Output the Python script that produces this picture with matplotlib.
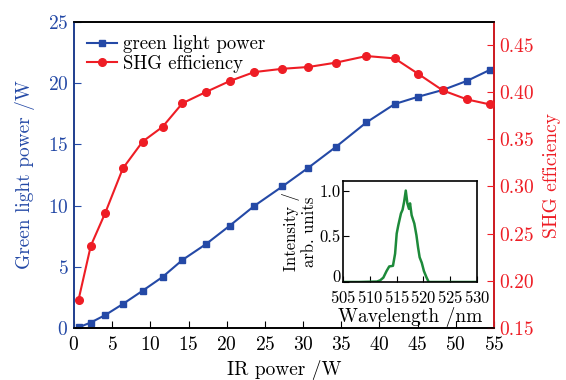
import matplotlib
matplotlib.use("Agg")
import matplotlib.pyplot as plt

plt.rcParams["font.family"] = ["cmr10", "DejaVu Serif"]
plt.rcParams["axes.formatter.use_mathtext"] = True
plt.rcParams["mathtext.fontset"] = "cm"

# IR pump power (W)
ir_power = [0.6, 2.2, 4.1, 6.4, 9.0, 11.6, 14.2, 17.3, 20.4, 23.6, 27.3,
            30.7, 34.3, 38.3, 42.0, 45.1, 48.3, 51.5, 54.5]
# green output power (W)
green_power = [0.05, 0.45, 1.06, 1.96, 3.05, 4.17, 5.56, 6.86, 8.36, 9.97,
               11.57, 13.1, 14.8, 16.8, 18.3, 18.9, 19.45, 20.2, 21.1]
# SHG efficiency
shg_eff = [0.180, 0.237, 0.272, 0.319, 0.3475, 0.363, 0.388, 0.400, 0.4115,
           0.421, 0.4245, 0.4264, 0.431, 0.438, 0.4355, 0.419, 0.4016,
           0.392, 0.3867]

# inset spectrum
wavelength = [505.0, 508.0, 511.3, 511.9, 512.5, 513.1, 513.6, 514.3, 514.7,
              515.0, 515.3, 515.8, 516.1, 516.4, 516.7, 517.0, 517.3, 517.5,
              517.8, 518.3, 518.7, 519.0, 519.3, 519.7, 520.1, 520.6, 521.0,
              524.0, 530.0]
intensity = [0.0, 0.0, 0.005, 0.018, 0.048, 0.12, 0.17, 0.177, 0.31,
             0.53, 0.62, 0.75, 0.79, 0.88, 1.0, 0.86, 0.80, 0.86,
             0.73, 0.64, 0.51, 0.38, 0.27, 0.21, 0.12, 0.048, 0.0,
             0.0, 0.0]

blue = "#2449a6"
red = "#ee1d25"
green = "#1d8a3a"

fig = plt.figure(figsize=(5.66, 3.8), dpi=100)
ax = fig.add_axes([0.1307, 0.1368, 0.742, 0.8052])
ax2 = ax.twinx()

l1, = ax.plot(ir_power, green_power, color=blue, marker="s", markersize=5,
              linewidth=1.5, label="green light power")
l2, = ax2.plot(ir_power, shg_eff, color=red, marker="o", markersize=5.5,
               linewidth=1.5, label="SHG efficiency")

ax.set_xlim(0, 55)
ax.set_ylim(0, 25)
ax2.set_ylim(0.15, 0.474)
ax.set_xticks(range(0, 56, 5))
ax.set_yticks(range(0, 26, 5))
ax2.set_yticks([0.15, 0.20, 0.25, 0.30, 0.35, 0.40, 0.45])
ax2.set_yticklabels(["0.15", "0.20", "0.25", "0.30", "0.35", "0.40", "0.45"])

fs = 14
ax.tick_params(axis="x", direction="in", length=5, labelsize=fs, pad=6)
ax.tick_params(axis="y", direction="in", length=5, labelsize=fs,
               colors=blue, pad=4)
ax2.tick_params(axis="y", direction="in", length=5, labelsize=fs,
                colors=red, pad=4)
for a in (ax, ax2):
    for s in a.spines.values():
        s.set_linewidth(1.2)
ax2.spines["right"].set_color(red)
ax2.spines["left"].set_color(blue)

ax.set_xlabel("IR power /W", fontsize=fs, labelpad=4)
ax.set_ylabel("Green light power /W", fontsize=fs, color=blue, labelpad=9)
ax2.set_ylabel("SHG efficiency", fontsize=fs, color=red, labelpad=6)

ax.legend([l1, l2], ["green light power", "SHG efficiency"], loc="upper left",
          frameon=False, fontsize=13.5, handlelength=1.6, handletextpad=0.3,
          borderaxespad=0.3, labelspacing=0.1)

# inset
axi = fig.add_axes([0.6066, 0.2579, 0.2357, 0.2647])
axi.plot(wavelength, intensity, color=green, linewidth=1.8)
axi.set_xlim(505, 530)
axi.set_ylim(0, 1.1)
axi.set_xticks([505, 510, 515, 520, 525, 530])
axi.set_yticks([0, 0.5, 1.0])
axi.set_yticklabels(["0", "0.5", "1.0"])
axi.tick_params(axis="x", direction="in", length=4, labelsize=12, pad=5)
axi.tick_params(axis="y", direction="in", length=4, labelsize=12, pad=2)
axi.get_yticklabels()[0].set_va("baseline")
for s in axi.spines.values():
    s.set_linewidth(1.2)
axi.set_xlabel("Wavelength /nm", fontsize=14, labelpad=1)
axi.set_ylabel("Intensity /\narb. units", fontsize=12, labelpad=2,
               linespacing=1.1)

fig.savefig("out.png", dpi=100)
